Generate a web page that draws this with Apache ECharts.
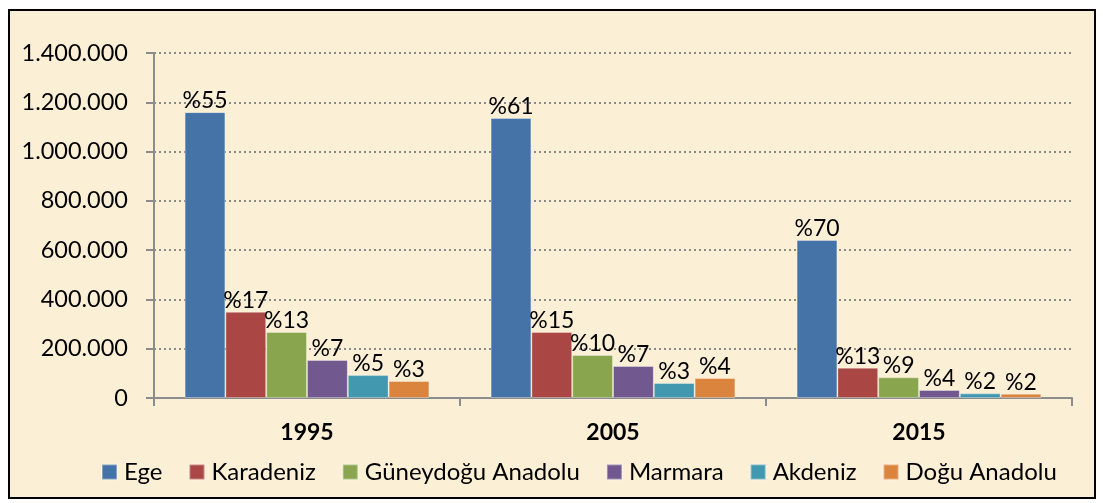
<!DOCTYPE html>
<html><head><meta charset="utf-8">
<script src="https://cdn.jsdelivr.net/npm/echarts@6/dist/echarts.min.js"></script>
<style>html,body{margin:0;padding:0;background:#fff}#c{width:1103px;height:503px}</style>
</head><body><div id="c"></div>
<script>
const categories = ['1995', '2005', '2015'];
const seriesNames = ['Ege', 'Karadeniz', 'Güneydoğu Anadolu', 'Marmara', 'Akdeniz', 'Doğu Anadolu'];
const ege = [1160000, 1136000, 641000];
const karadeniz = [350000, 268000, 123000];
const guneydogu = [268000, 175000, 84000];
const marmara = [154000, 130000, 32500];
const akdeniz = [93000, 61000, 19000];
const dogu = [69000, 81000, 17500];
const egePct = ['%55', '%61', '%70'];
const karadenizPct = ['%17', '%15', '%13'];
const guneydoguPct = ['%13', '%10', '%9'];
const marmaraPct = ['%7', '%7', '%4'];
const akdenizPct = ['%5', '%3', '%2'];
const doguPct = ['%3', '%4', '%2'];
const colors = ['#4572A7', '#AA4643', '#89A54E', '#71588F', '#4198AF', '#DB843D'];

const values = [ege, karadeniz, guneydogu, marmara, akdeniz, dogu];
const pcts = [egePct, karadenizPct, guneydoguPct, marmaraPct, akdenizPct, doguPct];
const FONT = 'Lato, "Open Sans", sans-serif';

function fmt(v) { return String(v).replace(/\B(?=(\d{3})+(?!\d))/g, '.'); }

const chart = echarts.init(document.getElementById('c'));
chart.setOption({
  animation: false,
  color: colors,
  graphic: [{
    type: 'rect', z: -10, silent: true,
    shape: { x: 9, y: 10, width: 1086, height: 488 },
    style: { fill: '#FBEFD6', stroke: '#000', lineWidth: 2 }
  }],
  grid: { left: 154, right: 31, top: 53, bottom: 105 },
  legend: {
    left: 96, top: 455, itemWidth: 15, itemHeight: 15, itemGap: 26,
    icon: 'rect',
    textStyle: { fontFamily: FONT, fontSize: 24, color: '#000', padding: [0, 0, 0, 2] },
    data: seriesNames
  },
  xAxis: {
    type: 'category', data: categories,
    axisLine: { lineStyle: { color: '#8c8c8c', width: 2 } },
    axisTick: { show: true, length: 8, lineStyle: { color: '#8c8c8c', width: 2 } },
    axisLabel: { margin: 23, fontFamily: FONT, fontSize: 23, fontWeight: 'bold', color: '#000' }
  },
  yAxis: {
    type: 'value', min: 0, max: 1400000, interval: 200000,
    axisLine: { show: true, lineStyle: { color: '#8c8c8c', width: 2 } },
    axisTick: { show: true, length: 8, lineStyle: { color: '#8c8c8c', width: 2 } },
    axisLabel: { margin: 26, fontFamily: FONT, fontSize: 23.5, color: '#000', formatter: fmt },
    splitLine: { lineStyle: { color: '#8a8a8a', type: [2, 3], width: 2 } }
  },
  series: seriesNames.map((n, i) => ({
    name: n, type: 'bar', data: values[i],
    barGap: '0%', barCategoryGap: '20%',
    itemStyle: { borderColor: 'rgba(255,255,255,0.35)', borderWidth: 1 },
    label: {
      show: true, position: 'top', distance: 0,
      fontFamily: FONT, fontSize: 23, color: '#000',
      formatter: p => pcts[i][p.dataIndex]
    }
  }))
});
</script></body></html>
